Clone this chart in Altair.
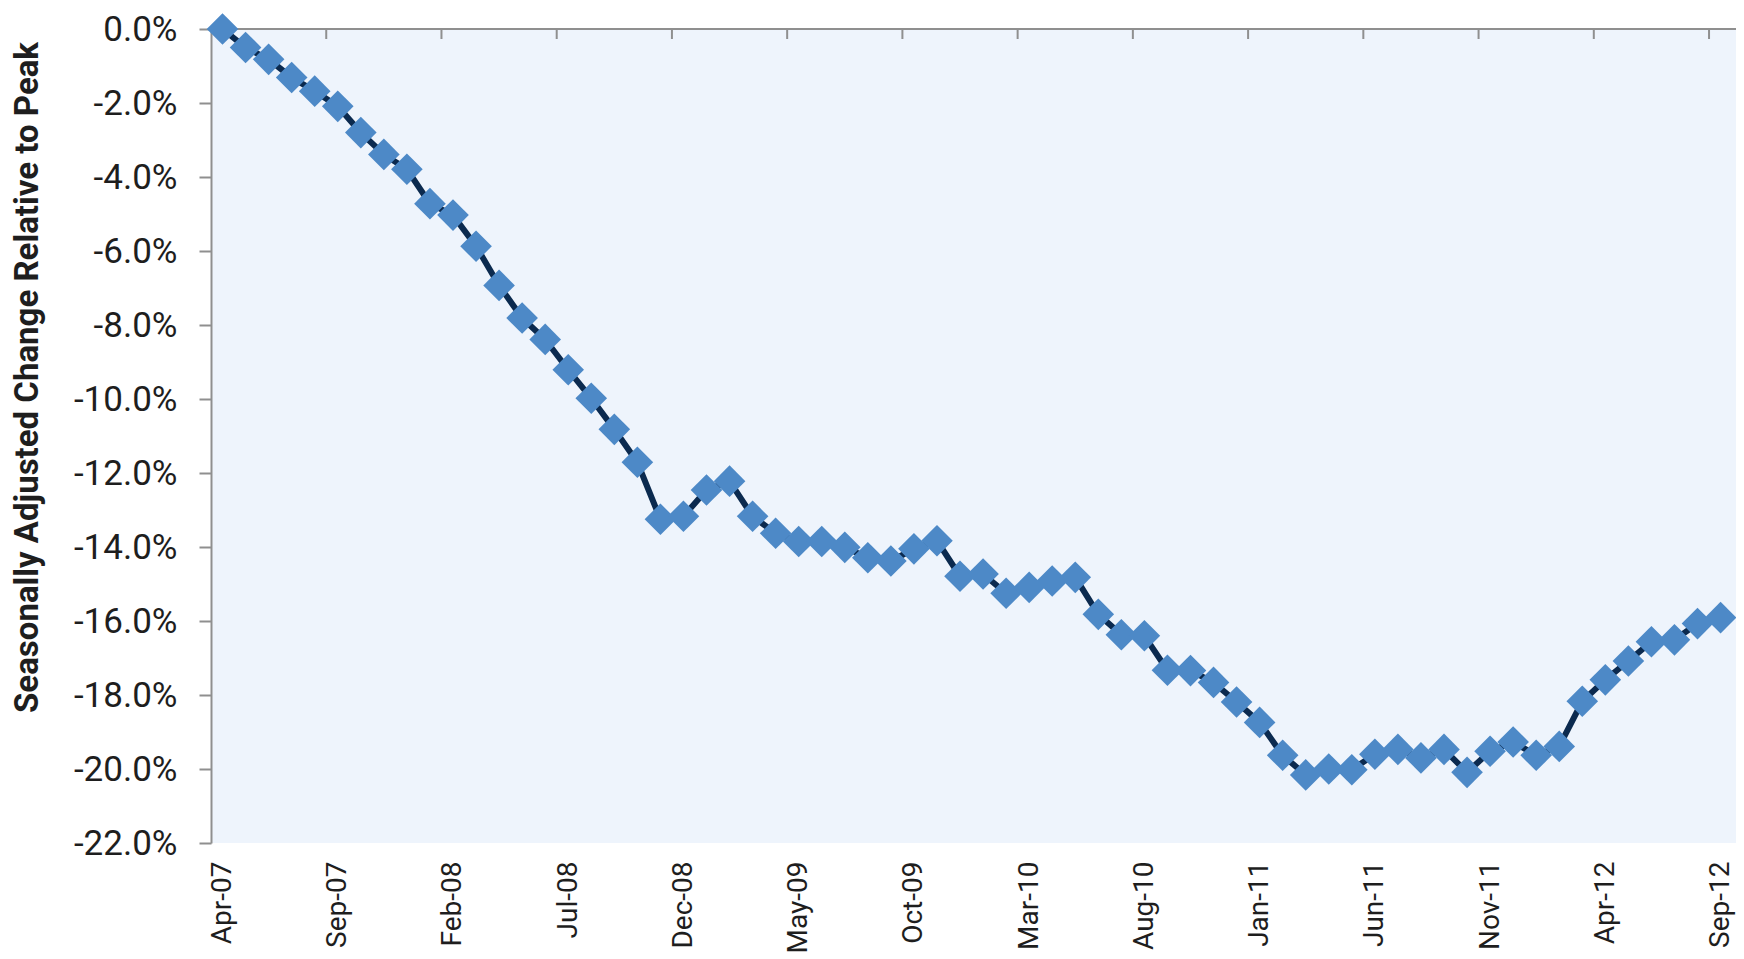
import altair as alt
import pandas as pd

months = [
    "Apr-07", "May-07", "Jun-07", "Jul-07", "Aug-07", "Sep-07", "Oct-07", "Nov-07", "Dec-07",
    "Jan-08", "Feb-08", "Mar-08", "Apr-08", "May-08", "Jun-08", "Jul-08", "Aug-08", "Sep-08", "Oct-08", "Nov-08", "Dec-08",
    "Jan-09", "Feb-09", "Mar-09", "Apr-09", "May-09", "Jun-09", "Jul-09", "Aug-09", "Sep-09", "Oct-09", "Nov-09", "Dec-09",
    "Jan-10", "Feb-10", "Mar-10", "Apr-10", "May-10", "Jun-10", "Jul-10", "Aug-10", "Sep-10", "Oct-10", "Nov-10", "Dec-10",
    "Jan-11", "Feb-11", "Mar-11", "Apr-11", "May-11", "Jun-11", "Jul-11", "Aug-11", "Sep-11", "Oct-11", "Nov-11", "Dec-11",
    "Jan-12", "Feb-12", "Mar-12", "Apr-12", "May-12", "Jun-12", "Jul-12", "Aug-12", "Sep-12",
]

change_pct = [
    0.0, -0.50, -0.82, -1.31, -1.68, -2.09, -2.80, -3.39, -3.79, -4.72,
    -5.03, -5.87, -6.93, -7.81, -8.39, -9.21, -9.98, -10.82, -11.71, -13.25,
    -13.17, -12.46, -12.22, -13.17, -13.63, -13.85, -13.85, -14.01, -14.29, -14.38,
    -14.05, -13.83, -14.79, -14.73, -15.25, -15.09, -14.92, -14.82, -15.82, -16.37,
    -16.40, -17.33, -17.34, -17.66, -18.19, -18.74, -19.63, -20.16, -20.00, -20.02,
    -19.60, -19.47, -19.70, -19.47, -20.09, -19.52, -19.27, -19.63, -19.39, -18.17,
    -17.59, -17.08, -16.56, -16.51, -16.07, -15.91,
]

label_every = 5
label_positions = [0, 5, 10, 15, 20, 25, 30, 35, 40, 45, 50, 55, 60, 65]
tick_boundaries = [4.5, 9.5, 14.5, 19.5, 24.5, 29.5, 34.5, 39.5, 44.5, 49.5, 54.5, 59.5, 64.5]
y_ticks = [0, -2, -4, -6, -8, -10, -12, -14, -16, -18, -20, -22]

df = pd.DataFrame({"idx": list(range(len(months))), "month": months, "value": change_pct})
ticks_df = pd.DataFrame({"idx": tick_boundaries})

W = 1525
H = 814
AXIS_GRAY = "#8f8f8f"
LABEL_COLOR = "#1e1e1e"
FONT = "Roboto"

label_list = "[" + ",".join("'%s'" % months[i] for i in label_positions) + "]"

x_enc = alt.X(
    "idx:Q",
    scale=alt.Scale(domain=[-0.5, 65.67], nice=False, zero=False),
    axis=alt.Axis(
        values=label_positions,
        labelExpr=label_list + "[round(datum.value / %d)]" % label_every,
        ticks=False,
        domain=False,
        grid=False,
        labelAngle=270,
        labelAlign="right",
        labelBaseline="middle",
        labelFont=FONT,
        labelFontSize=28,
        labelColor=LABEL_COLOR,
        labelPadding=18,
        labelOverlap=False,
        labelBound=False,
        title=None,
    ),
)

tick_layer = alt.Chart(ticks_df).mark_rule(color=AXIS_GRAY, strokeWidth=2).encode(
    x=x_enc, y=alt.value(0), y2=alt.value(10)
)

top_border = alt.Chart(ticks_df).mark_rule(color=AXIS_GRAY, strokeWidth=2).encode(
    x=alt.value(0), x2=alt.value(W), y=alt.value(0)
)

y_enc = alt.Y(
    "value:Q",
    scale=alt.Scale(domain=[-22, 0], nice=False, zero=False),
    axis=alt.Axis(
        values=y_ticks,
        labelExpr="(datum.value < 0 ? '-' : '') + format(abs(datum.value), '.1f') + '%'",
        grid=False,
        domainColor=AXIS_GRAY,
        domainWidth=2,
        tickColor=AXIS_GRAY,
        tickWidth=2,
        tickSize=12,
        labelFont=FONT,
        labelFontSize=35,
        labelColor=LABEL_COLOR,
        labelPadding=22,
        title="Seasonally Adjusted Change Relative to Peak",
        titleFont=FONT,
        titleFontSize=33,
        titleFontWeight="bold",
        titleColor=LABEL_COLOR,
        titleAngle=270,
        titleAlign="center",
        titleBaseline="middle",
        titleX=-184,
        titleY=348,
    ),
)

line = alt.Chart(df).mark_line(color="#0b2a4f", strokeWidth=6).encode(
    x=alt.X("idx:Q"), y=y_enc
)

points = alt.Chart(df).mark_point(
    shape="diamond", filled=True, size=1000, color="#4d89c7", opacity=1
).encode(x=alt.X("idx:Q"), y=alt.Y("value:Q"))

chart = (
    alt.layer(tick_layer, top_border, line, points)
    .properties(
        width=W,
        height=H,
        autosize=alt.AutoSizeParams(type="none"),
        padding={"left": 203, "top": 21, "right": 0, "bottom": 115},
        background="white",
    )
    .configure_view(fill="#eef4fc", stroke=None)
)

chart.save("out.html", embed_options={"renderer": "svg", "actions": False})
